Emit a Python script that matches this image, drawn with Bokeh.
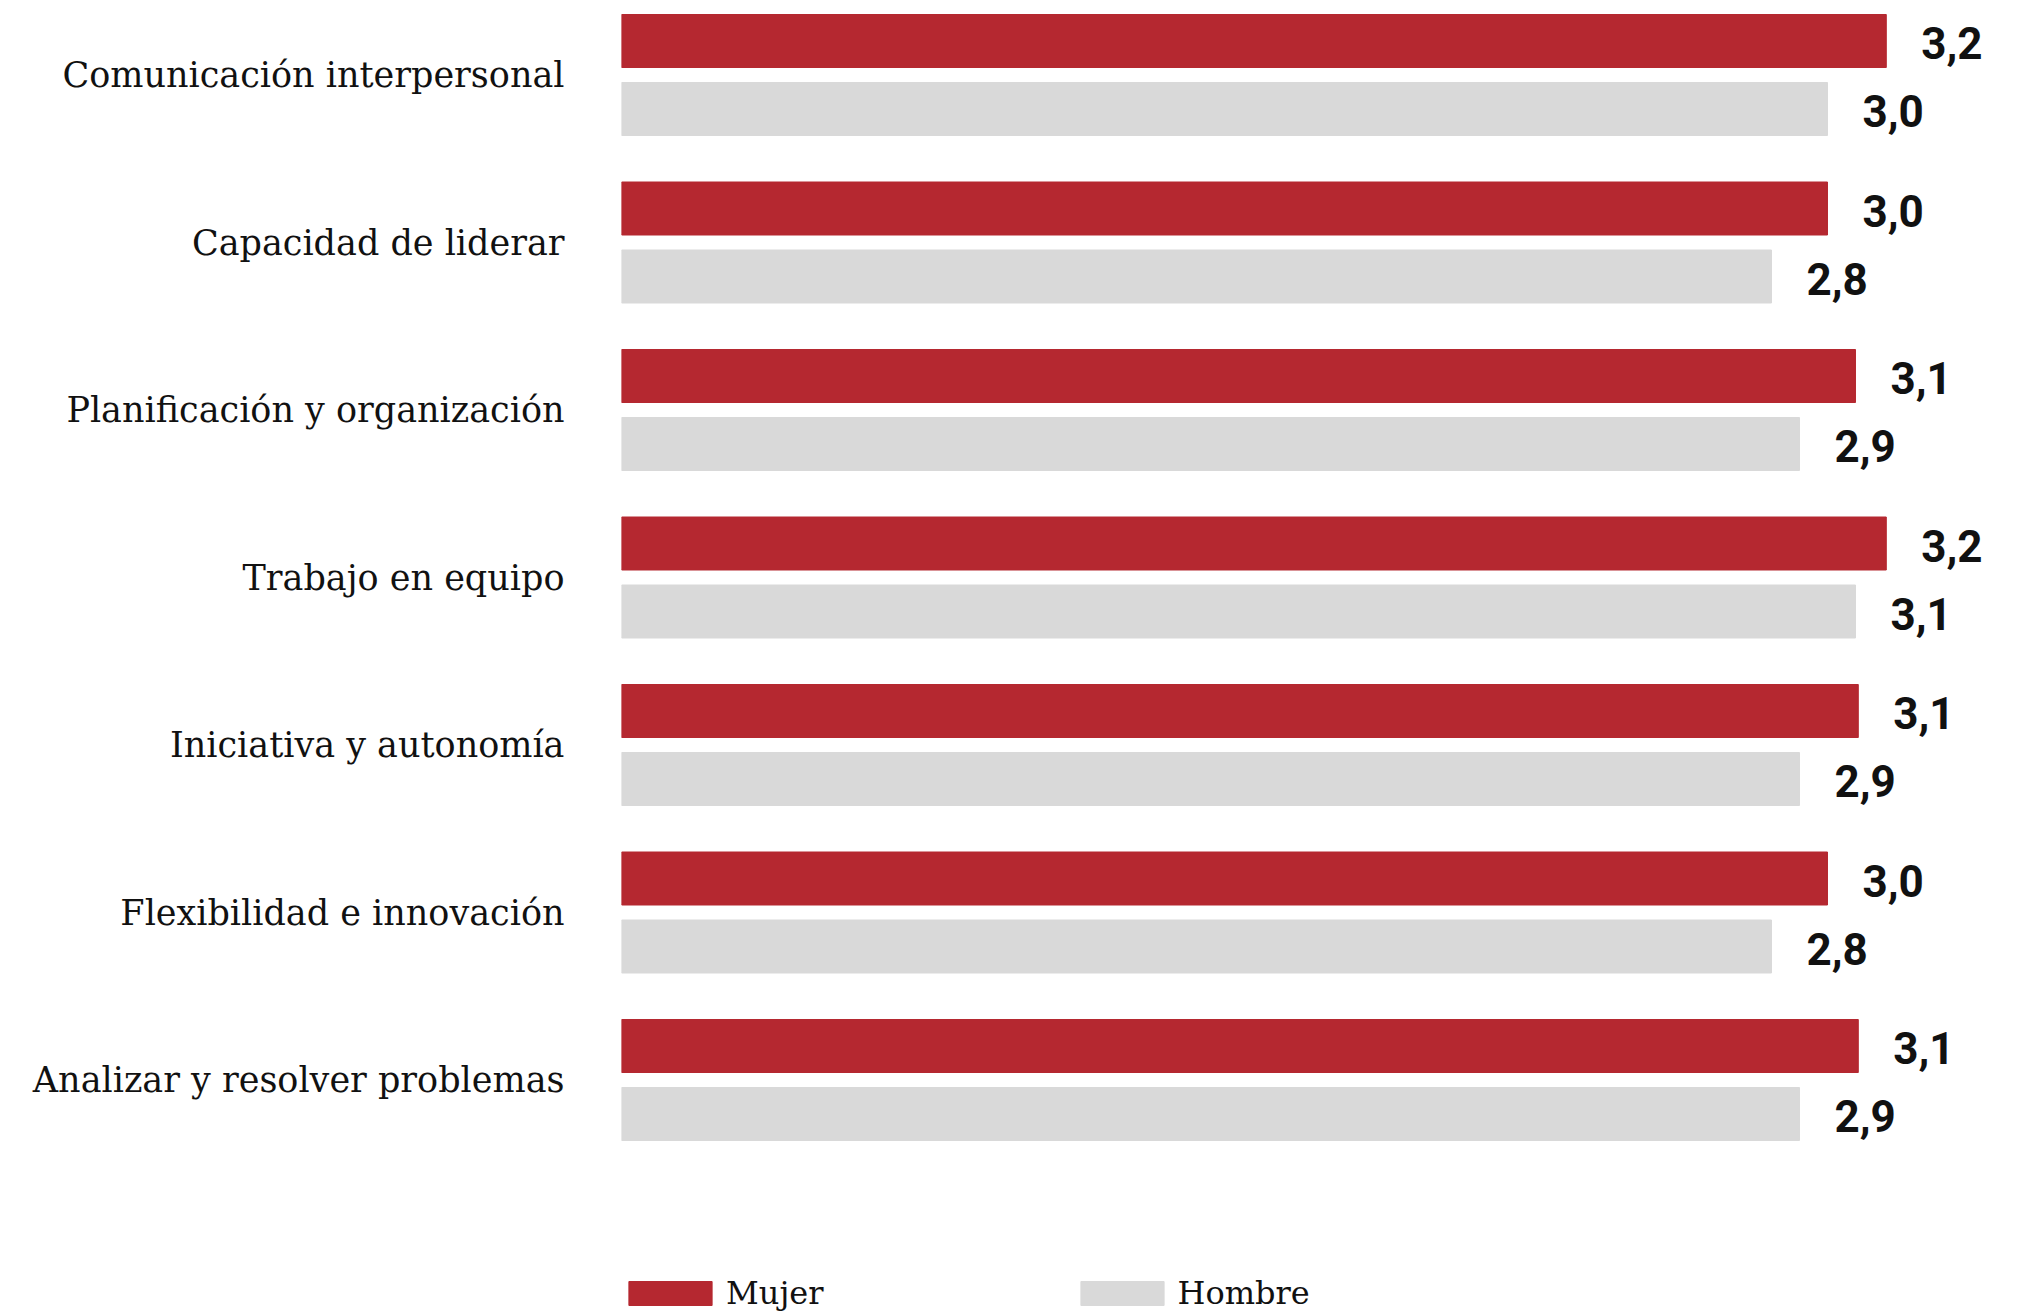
from bokeh.plotting import figure
from bokeh.models import Range1d, ColumnDataSource, Legend, LegendItem, FixedTicker
from bokeh.core.properties import value
from bokeh.embed import file_html
from bokeh.resources import INLINE

categories = [
    "Comunicación interpersonal",
    "Capacidad de liderar",
    "Planificación y organización",
    "Trabajo en equipo",
    "Iniciativa y autonomía",
    "Flexibilidad e innovación",
    "Analizar y resolver problemas",
]
mujer = [3.21, 3.00, 3.10, 3.21, 3.11, 3.00, 3.11]
hombre = [3.00, 2.80, 2.90, 3.10, 2.90, 2.80, 2.90]
mujer_labels = ["3,2", "3,0", "3,1", "3,2", "3,1", "3,0", "3,1"]
hombre_labels = ["3,0", "2,8", "2,9", "3,1", "2,9", "2,8", "2,9"]

RED = "#b52830"
GRAY = "#d9d9d9"
X_START, X_END = -1.307, 3.725

n = len(categories)
yc = [n - 1 - i for i in range(n)]
y_m = [v + 0.203 for v in yc]
y_h = [v - 0.203 for v in yc]

W, H = 2030, 1312
p = figure(width=W, height=H, output_backend="svg", toolbar_location=None,
           x_range=Range1d(X_START, X_END),
           y_range=Range1d(-1.388, 6.4448),
           min_border_left=621, min_border_right=0, min_border_top=0, min_border_bottom=0)
p.xaxis.visible = False
p.grid.visible = False
p.outline_line_color = None
p.background_fill_color = "white"

yax = p.yaxis[0]
yax.ticker = FixedTicker(ticks=yc)
yax.major_label_overrides = {y: c for y, c in zip(yc, categories)}
yax.axis_line_color = None
yax.major_tick_line_color = None
yax.minor_tick_line_color = None
yax.major_label_standoff = 51
yax.major_label_text_font = "DejaVu Serif"
yax.major_label_text_font_size = "35px"
yax.major_label_text_color = "#111111"

src_m = ColumnDataSource(dict(y=y_m, v=mujer, lab=mujer_labels))
src_h = ColumnDataSource(dict(y=y_h, v=hombre, lab=hombre_labels))

r_m = p.hbar(y="y", left=X_START, right="v", height=0.3164, color=RED, source=src_m)
r_h = p.hbar(y="y", left=X_START, right="v", height=0.3164, color=GRAY, source=src_h)

for src in (src_m, src_h):
    p.text(x="v", y="y", text="lab", source=src, x_offset=35, y_offset=2,
           text_align="left", text_baseline="middle",
           text_font=value("Roboto"), text_font_style="bold",
           text_font_size="44px", text_color="#111111")

legend = Legend(items=[LegendItem(label="Mujer", renderers=[r_m]),
                       LegendItem(label="Hombre", renderers=[r_h])],
                orientation="horizontal", location=(-3, 0),
                glyph_width=104, glyph_height=30, label_standoff=4, spacing=246,
                label_text_font="DejaVu Serif", label_text_font_size="32px",
                label_text_color="#111111", padding=0, margin=0,
                border_line_alpha=0, background_fill_alpha=0)
p.add_layout(legend)

open("out.html", "w").write(file_html(p, INLINE))
